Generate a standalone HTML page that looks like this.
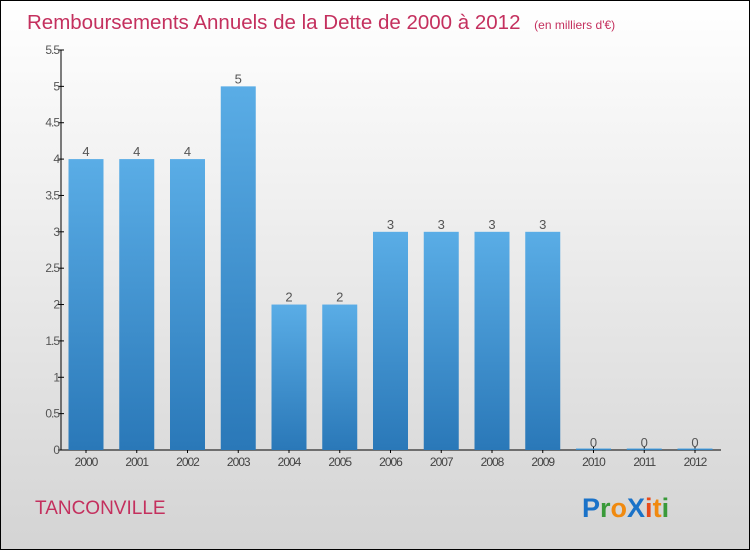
<!DOCTYPE html>
<html><head><meta charset="utf-8"><style>
body{margin:0}
svg{display:block;font-family:"Liberation Sans",sans-serif}
</style></head><body>
<svg width="750" height="550" xmlns="http://www.w3.org/2000/svg">
<defs>
<linearGradient id="bg" x1="0" y1="0" x2="0" y2="1"><stop offset="0" stop-color="#ffffff"/><stop offset="1" stop-color="#d4d4d4"/></linearGradient>
<linearGradient id="bar" x1="0" y1="0" x2="0" y2="1"><stop offset="0" stop-color="#5aade6"/><stop offset="1" stop-color="#2a78b8"/></linearGradient>
</defs>
<rect x="0.5" y="0.5" width="749" height="549" fill="url(#bg)" stroke="#000"/>
<text x="27" y="29" font-size="20.5" fill="#c4305e">Remboursements Annuels de la Dette de 2000 à 2012 <tspan font-size="12" dx="8">(en milliers d'€)</tspan></text>
<g id="axes"></g>
<g id="bars"></g>
<text x="35" y="514" font-size="19" fill="#c4305e">TANCONVILLE</text>
<g font-size="27" font-weight="bold" font-family="'Liberation Sans',sans-serif">
<text x="582" y="517"><tspan fill="#1a72c8">P</tspan><tspan fill="#3a9a3a">r</tspan><tspan fill="#f08a10">o</tspan><tspan fill="#1a72c8">X</tspan><tspan fill="#e84a1a">i</tspan><tspan fill="#f08a10">t</tspan><tspan fill="#3a9a3a">i</tspan></text>
</g>
</svg>
<script>
const categories=["2000","2001","2002","2003","2004","2005","2006","2007","2008","2009","2010","2011","2012"];
const values=[4,4,4,5,2,2,3,3,3,3,0,0,0];
const yTicks=[0,0.5,1,1.5,2,2.5,3,3.5,4,4.5,5,5.5];
const NS="http://www.w3.org/2000/svg";
const y0=450,yTop=50,yMax=5.5,x0=86,step=50.75,bw=35;
const yS=v=>y0-(v/yMax)*(y0-yTop);
const xS=i=>x0+i*step;
function mk(t,a,p){const e=document.createElementNS(NS,t);for(const k in a)e.setAttribute(k,a[k]);p.appendChild(e);return e;}
const ax=document.getElementById('axes'),bg=document.getElementById('bars');
const yl=mk('line',{x1:61,y1:y0,x2:61,y2:yTop,stroke:'#000'},ax);


const xl=mk('line',{x1:61,y1:y0,x2:721,y2:y0,stroke:'#000'},ax);


yTicks.forEach(v=>{const y=yS(v);
mk('line',{x1:58,y1:y,x2:64,y2:y,stroke:'#000'},ax);
const t=mk('text',{x:59,y:y+4,'font-size':12,fill:'#555','text-anchor':'end','letter-spacing':'-1'},ax);t.textContent=v;

});
categories.forEach((c,i)=>{const x=xS(i),v=values[i],y=yS(v);
mk('line',{x1:x,y1:y0-3,x2:x,y2:y0+3,stroke:'#000'},ax);
const t=mk('text',{x:x,y:466,'font-size':12,fill:'#444','text-anchor':'middle','letter-spacing':'-1'},ax);t.textContent=c;


const r=mk('rect',{x:x-bw/2,y:Math.min(y,y0-1.5),width:bw,height:Math.max(y0-y,1.5),fill:'url(#bar)'},bg);


const l=mk('text',{x:x,y:y-3,'font-size':13,fill:'#555','text-anchor':'middle'},bg);l.textContent=v;

});
</script>
</body></html>
